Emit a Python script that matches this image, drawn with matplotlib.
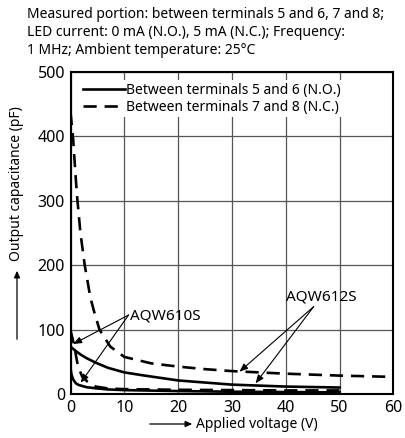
import matplotlib
matplotlib.use("Agg")
import matplotlib.pyplot as plt

plt.rcParams['font.family'] = ['Noto Sans', 'DejaVu Sans']

# ---- data ----
v_612_nc = [0, 0.5, 1.0, 1.3, 1.85, 2.65, 3.7, 4.4, 5.4, 7.4, 10, 15, 20, 25, 30, 40, 50, 60]
c_612_nc = [438, 395, 332, 300, 250, 200, 150, 128, 100, 74, 58, 48, 43, 39, 36, 32, 29, 27]

v_612_no = [0, 1, 2, 3, 4.7, 7, 10, 13.4, 20, 30, 40, 50]
c_612_no = [74, 67, 61, 56, 49, 41, 34, 29.5, 21.5, 15, 12, 10.5]

v_610_nc = [0, 0.6, 1.4, 2.2, 3.1, 4.7, 7, 10, 20, 30, 40, 50]
c_610_nc = [99, 79, 43, 27, 20, 12, 9, 8, 7, 6.5, 6, 6]

v_610_no = [0, 0.05, 0.2, 0.5, 1, 1.5, 3, 4.7, 7, 10, 20, 30, 40, 50]
c_610_no = [45, 38, 30, 23, 17, 14.5, 11, 9.3, 7.5, 6.5, 5, 4, 3.5, 3]

x_ticks = [0, 10, 20, 30, 40, 50, 60]
y_ticks = [0, 100, 200, 300, 400, 500]

legend_labels = ["Between terminals 5 and 6 (N.O.)", "Between terminals 7 and 8 (N.C.)"]
title_lines = ["Measured portion: between terminals 5 and 6, 7 and 8;",
               "LED current: 0 mA (N.O.), 5 mA (N.C.); Frequency:",
               "1 MHz; Ambient temperature: 25°C"]

W, H = 405, 438
fig = plt.figure(figsize=(W / 100, H / 100), dpi=100)
ax = fig.add_axes([70.5 / W, 1 - 394.3 / H, (393.3 - 70.5) / W, (394.3 - 72) / H])

dash = (0, (5, 3))
lw = 1.9
l_no, = ax.plot(v_612_no, c_612_no, color='black', lw=lw)
ax.plot(v_610_no, c_610_no, color='black', lw=lw)
l_nc, = ax.plot(v_612_nc, c_612_nc, color='black', lw=lw, linestyle=dash)
ax.plot(v_610_nc, c_610_nc, color='black', lw=lw, linestyle=dash)

ax.set_xlim(0, 60)
ax.set_ylim(0, 500)
ax.set_xticks(x_ticks)
ax.set_yticks(y_ticks)
ax.tick_params(length=0, labelsize=11.5, pad=4)
ax.grid(True, color='#555555', lw=0.9)
ax.set_axisbelow(True)
for s in ax.spines.values():
    s.set_linewidth(1.5)

leg = ax.legend([l_no, l_nc], legend_labels, loc='upper left',
                bbox_to_anchor=(0.03, 0.975), frameon=True, fontsize=10,
                handlelength=3.0, handletextpad=0.1, labelspacing=0.12,
                borderpad=0.2, borderaxespad=0.0, fancybox=False)
leg.get_frame().set_facecolor('white')
leg.get_frame().set_edgecolor('none')
leg.get_frame().set_alpha(1)

arrow_kw = dict(arrowstyle='-|>,head_length=0.5,head_width=0.2', color='black', lw=0.8,
                shrinkA=0, shrinkB=0)
# AQW610S annotation
ax.annotate('', xy=(0.5, 78), xytext=(10.8, 123), arrowprops=arrow_kw)
ax.annotate('', xy=(1.9, 18), xytext=(10.8, 123), arrowprops=arrow_kw)
ax.text(11.0, 121, 'AQW610S', fontsize=11, va='center', ha='left')
# AQW612S annotation
ax.annotate('', xy=(31.4, 35), xytext=(45.2, 136), arrowprops=arrow_kw)
ax.annotate('', xy=(34.4, 17), xytext=(45.2, 136), arrowprops=arrow_kw)
ax.text(46.6, 151, 'AQW612S', fontsize=11, va='center', ha='center')

# header text
for i, t in enumerate(title_lines):
    fig.text(27 / W, 1 - (15 + 17.5 * i) / H, t, fontsize=10, va='center', ha='left')

# axis labels with arrows
fig.text(196 / W, 1 - 424 / H, 'Applied voltage (V)', fontsize=10, va='center', ha='left')
fig.add_artist(matplotlib.patches.FancyArrowPatch(
    (147 / W, 1 - 424 / H), (195 / W, 1 - 424 / H), transform=fig.transFigure,
    arrowstyle='-|>,head_length=4,head_width=1.8', color='black', lw=0.9))
fig.text(17 / W, 1 - 184 / H, 'Output capacitance (pF)', fontsize=10, va='center',
         ha='center', rotation=90)
fig.add_artist(matplotlib.patches.FancyArrowPatch(
    (17 / W, 1 - 342 / H), (17 / W, 1 - 268 / H), transform=fig.transFigure,
    arrowstyle='-|>,head_length=4,head_width=1.8', color='black', lw=0.9))

fig.savefig('out.png', dpi=100, facecolor='white')
